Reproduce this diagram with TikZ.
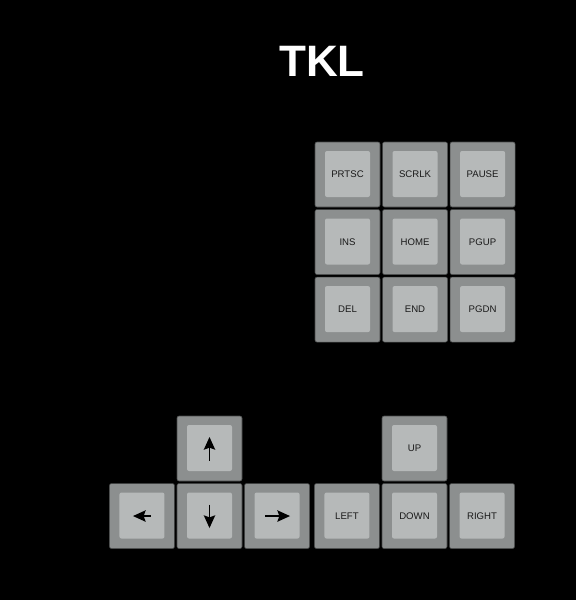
\documentclass[tikz,border=0pt]{standalone}
\usepackage{fontspec}
\setmainfont{Liberation Sans}
\usetikzlibrary{positioning,arrows.meta}
\definecolor{capside}{RGB}{140,143,143}
\definecolor{captop}{RGB}{182,185,185}
\definecolor{capedge}{RGB}{70,72,72}
\tikzset{
    key/.style = {
        draw = capedge,
        line width = 0.4pt,
        fill = capside,
        rounded corners = 1.5pt,
        minimum size = 48.75pt,
        inner sep = 0pt,
        text = black!90,
        font = \fontsize{7.2}{8}\selectfont,
        path picture = {
            \fill[captop, rounded corners=1.5pt]
                ([shift={(7.5pt,-6.75pt)}]path picture bounding box.north west)
                rectangle
                ([shift={(-7.5pt,7.5pt)}]path picture bounding box.south east);
        },
        },
    title/.style = {
        text = white,
        font = \fontsize{33}{36}\bfseries\selectfont,
        },
    glyph/.style = {
        line width = 1.2pt,
        -{Stealth[length=9.5pt,width=8.5pt,inset=1.5pt]},
        },
    node distance = 1.5pt,
}

\begin{document}
\begin{tikzpicture}[x=0.75pt,y=-0.75pt]
            % background and page size
            \fill[black] (0,0) rectangle (576,600);
            \useasboundingbox (0,0) rectangle (576,600);

            \node[title] (tkl) at (322,61) {TKL};

            % navigation block
            \node[key] (prtsc) at (347.5,174.5) {PRTSC};
            \node[key, right=of prtsc] (scrlk) {SCRLK};
            \node[key, right=of scrlk] (pause) {PAUSE};
            \node[key, below=of prtsc] (ins) {INS};
            \node[key, right=of ins] (home) {HOME};
            \node[key, right=of home] (pgup) {PGUP};
            \node[key, below=of ins] (del) {DEL};
            \node[key, right=of del] (end) {END};
            \node[key, right=of end] (pgdn) {PGDN};

            % arrow keys with glyphs
            \node[key] (up) at (209.5,448.5) {};
            \node[key, below=of up] (down) {};
            \node[key, left=of down] (left) {};
            \node[key, right=of down] (right) {};

            % arrow keys with words
            \node[key] (upword) at (414.5,448.5) {UP};
            \node[key, below=of upword] (downword) {DOWN};
            \node[key, left=of downword] (leftword) {LEFT};
            \node[key, right=of downword] (rightword) {RIGHT};

            \draw[glyph] ([shift={(0,12)}]up.center) -- ([shift={(0,-11.5)}]up.center);
            \draw[glyph] ([shift={(0,-11.5)}]down.center) -- ([shift={(0,12)}]down.center);
            \draw[glyph] ([shift={(9,0)}]left.center) -- ([shift={(-9,0)}]left.center);
            \draw[glyph] ([shift={(-12,0)}]right.center) -- ([shift={(13,0)}]right.center);
        \end{tikzpicture}
\end{document}
